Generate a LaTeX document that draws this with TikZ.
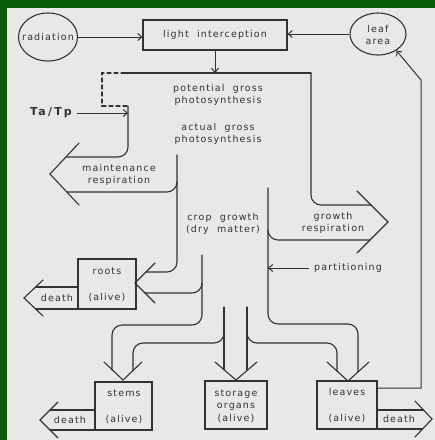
\documentclass[tikz,border=0pt]{standalone}
\usepackage{fontspec}
\newfontfamily\labfont[LetterSpace=12,WordSpace=2]{DejaVu Sans}
\newfontfamily\tatpfont[LetterSpace=20]{DejaVu Sans}
\usetikzlibrary{shapes.geometric,arrows.meta}
\definecolor{bgc}{RGB}{232,232,230}
\definecolor{framec}{RGB}{10,92,10}
\definecolor{ink}{RGB}{50,50,50}
\begin{document}
\begin{tikzpicture}[x=1pt,y=-1pt,
  lab/.style={font=\labfont\fontsize{9.5}{12.5}\selectfont, text=ink, align=center, inner sep=0pt},
  boxnode/.style={draw=ink, line width=1.1pt, inner sep=0pt},
  ellnode/.style={draw=ink, line width=1.1pt, ellipse, inner sep=0pt},
  band/.style={draw=ink, line width=1.1pt, rounded corners=10pt, line cap=round},
  chev/.style={draw=ink, line width=1.1pt, line cap=round, line join=miter},
  arr/.style={draw=ink, line width=1pt, -{Straight Barb[length=4pt,width=7pt]}}]
\useasboundingbox (0,0) rectangle (435,440);
\fill[bgc] (0,0) rectangle (435,440);
\fill[framec] (0,0) rectangle (435,8);
\fill[framec] (0,0) rectangle (7,440);

% nodes
\node[ellnode, minimum width=59pt, minimum height=48pt] (radiation) at (48,37) {};
\node[lab] (radtext) at (48,37) {radiation};
\node[boxnode, minimum width=144pt, minimum height=30pt] (light) at (215,35) {};
\node[lab] (lighttext) at (215,35) {light interception};
\node[ellnode, minimum width=56pt, minimum height=42pt] (leafarea) at (378,34) {};
\node[lab] (leaftext) at (378,35) {leaf\\area};

\node[lab] (potential) at (218,95) {potential gross\\photosynthesis};
\node[lab] (actual) at (218,134) {actual gross\\photosynthesis};
\node[lab] (maint) at (119,175) {maintenance\\respiration};
\node[lab] (cropg) at (223,224) {crop growth\\(dry matter)};
\node[lab] (growthr) at (333,223) {growth\\respiration};
\node[lab] (partit) at (348,268) {partitioning};
\node[font=\tatpfont\bfseries\fontsize{11}{13}\selectfont, text=ink, inner sep=0pt] (tatp) at (51,113) {Ta/Tp};

\node[boxnode, minimum width=58pt, minimum height=50pt] (roots) at (107,284) {};
\node[lab] (rootsT) at (107,271) {roots};
\node[lab] (rootsA) at (107,298) {(alive)};
\node[lab] (rootsD) at (57,298) {death};

\node[boxnode, minimum width=57pt, minimum height=48pt] (stems) at (123.5,406) {};
\node[lab] (stemsT) at (124,393) {stems};
\node[lab] (stemsA) at (124,420) {(alive)};
\node[lab] (stemsD) at (70,420) {death};

\node[boxnode, minimum width=62pt, minimum height=48pt] (storage) at (236,405) {};
\node[lab] (storageT) at (236,406) {storage\\organs\\(alive)};

\node[boxnode, minimum width=60pt, minimum height=48pt] (leaves) at (347,405) {};
\node[lab] (leavesT) at (347,392) {leaves};
\node[lab] (leavesA) at (347,419) {(alive)};
\node[lab] (leavesD) at (399,419) {death};

% coordinates
\coordinate (ptop) at (215,73);
\coordinate (tatpend) at (128,113);
\coordinate (partend) at (268,268);
\coordinate (fbR) at (421,388);
\coordinate (fbT) at (421,80);

% simple arrows
\draw[arr] (radiation.east) -- (light.west |- radiation.east);
\draw[arr] (leafarea.west) -- (light.east |- leafarea.west);
\draw[arr] (light.south) -- (ptop);
\draw[arr] (tatp.east) ++(5,0) -- (tatpend);
\draw[arr] (partit.west) ++(-5,0) -- (partend);
\draw[arr] (leaves.east |- fbR) -- (fbR) -- (fbT) -- (leafarea.-42);

% photosynthesis band
\draw[band] (125,73) -- (311,73);
\draw[band, dash pattern=on 4pt off 3pt, rounded corners=0pt] (125,73) -- (102,73) -- (102,106) -- (128,106);
\draw[band] (311,73) -- (311,205) -- (371,205);
\draw[band] (128,106) -- (128,157) -- (66,157);
% maintenance respiration
\draw[band] (177,155) -- (177,272) -- (146,272);
\draw[band] (177,182) -- (177,192) -- (67,192);
\draw[chev] (79,143) -- (50,174) -- (79,205);
% growth respiration
\draw[band] (268,188) -- (268,324) -- (358,324) -- (358,372);
\draw[band] (268,230) -- (268,240) -- (370,240);
\draw[chev] (357,191) -- (388,222) -- (357,253);
% roots
\draw[band] (202,255) -- (202,325) -- (112,325) -- (112,370);
\draw[band] (202,283) -- (202,293) -- (145,293);
\draw[chev] (155,263) -- (135,283) -- (155,303);
% storage, stems, leaves
\draw[band] (224,307) -- (224,370);
\draw[band] (247,307) -- (247,370);
\draw[band] (224,333) -- (224,343) -- (133,343) -- (133,370);
\draw[band] (247,333) -- (247,343) -- (337,343) -- (337,371);
\draw[chev] (215,362) -- (236,380) -- (257,362);
\draw[chev] (104,362) -- (123,380) -- (142,362);
\draw[chev] (327,362) -- (348,381) -- (369,362);

% death arrows
\draw[band, rounded corners=0pt] (78,287) -- (35.5,287);
\draw[band, rounded corners=0pt] (78,309) -- (35.5,309);
\draw[chev] (43,280) -- (24,298) -- (43,316);
\draw[band, rounded corners=0pt] (95,410) -- (50,410);
\draw[band, rounded corners=0pt] (95,430) -- (50,430);
\draw[chev] (58,402) -- (40,420) -- (58,438);
\draw[band, rounded corners=0pt] (377,410) -- (423.5,410);
\draw[band, rounded corners=0pt] (377,429) -- (422.6,429);
\draw[chev] (415,401) -- (432,419) -- (415,437);
\end{tikzpicture}
\end{document}
